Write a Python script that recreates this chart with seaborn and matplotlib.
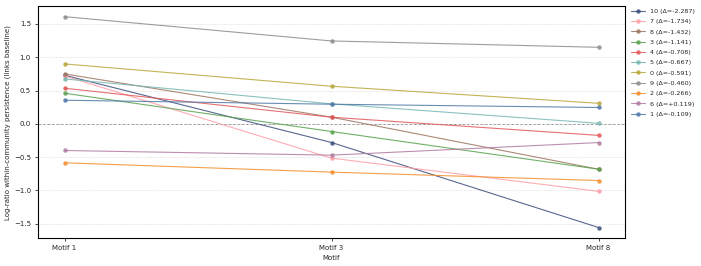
import pandas as pd
import numpy as np
import matplotlib.pyplot as plt
import seaborn as sns

# Motif columns along the x axis
MOTIFS = ["Motif 1", "Motif 3", "Motif 8"]

# Community ids, in legend order (largest |delta| first)
COMMUNITIES = ["10", "7", "8", "3", "4", "5", "0", "9", "2", "6", "1"]

# Log-ratio values per community at Motif 1 / Motif 3 / Motif 8
VAL_MOTIF1 = [0.730, 0.720, 0.750, 0.460, 0.535, 0.675, 0.900, 1.610, -0.585, -0.400, 0.355]
VAL_MOTIF3 = [-0.280, -0.515, 0.100, -0.115, 0.100, 0.300, 0.565, 1.245, -0.725, -0.470, 0.295]
VAL_MOTIF8 = [-1.557, -1.014, -0.682, -0.681, -0.173, 0.008, 0.309, 1.150, -0.851, -0.281, 0.246]

# Delta shown in the legend (Motif 8 minus Motif 1)
DELTAS = [-2.287, -1.734, -1.432, -1.141, -0.708, -0.667, -0.591, -0.460, -0.266, 0.119, -0.109]

COLORS = ["#3b4d7e", "#ff9da7", "#9c755f", "#59a14f", "#e15759", "#76b7b2",
          "#b9a63a", "#8c8c8c", "#f28e2b", "#b07aa1", "#4e79a7"]

# Build a long-form table for seaborn
rows = []
for i, comm in enumerate(COMMUNITIES):
    sign = "+" if DELTAS[i] > 0 else ""
    label = f"{comm} (\u0394={sign}{DELTAS[i]:.3f})"
    for motif, vals in zip(MOTIFS, [VAL_MOTIF1, VAL_MOTIF3, VAL_MOTIF8]):
        rows.append({"Motif": motif, "value": vals[i], "label": label})
df = pd.DataFrame(rows)
labels = list(dict.fromkeys(df["label"]))
palette = dict(zip(labels, COLORS))

sns.set_style("white")
plt.rcParams["font.family"] = ["DejaVu Sans"]

fig, ax = plt.subplots(figsize=(7.01, 2.66), dpi=100)
fig.subplots_adjust(left=0.054, right=0.892, top=0.977, bottom=0.105)

sns.lineplot(data=df, x="Motif", y="value", hue="label", hue_order=labels,
             palette=palette, marker="o", markersize=3.2, markeredgewidth=0,
             linewidth=0.8, alpha=0.85, sort=False, ax=ax)

# Baseline at zero
ax.axhline(0, color="grey", linestyle="--", linewidth=0.6, zorder=0)
ax.yaxis.grid(True, linestyle=":", color="#d5d5d5", linewidth=0.6)
ax.set_axisbelow(True)

ax.set_xlim(-0.1, 2.1)
ax.set_xlabel("Motif", fontsize=5, labelpad=3)
ax.set_ylabel("Log-ratio within-community persistence (links baseline)", fontsize=5, labelpad=2)
ax.tick_params(axis="both", labelsize=5, length=2, width=0.6, pad=3, left=True, bottom=True)
for sp in ax.spines.values():
    sp.set_color("black")
    sp.set_linewidth(0.8)

ax.legend(bbox_to_anchor=(1.005, 1.0), loc="upper left", frameon=False,
          fontsize=4.6, handlelength=2.2, labelspacing=0.75, borderaxespad=0.0)

plt.savefig("out.png", dpi=100)
